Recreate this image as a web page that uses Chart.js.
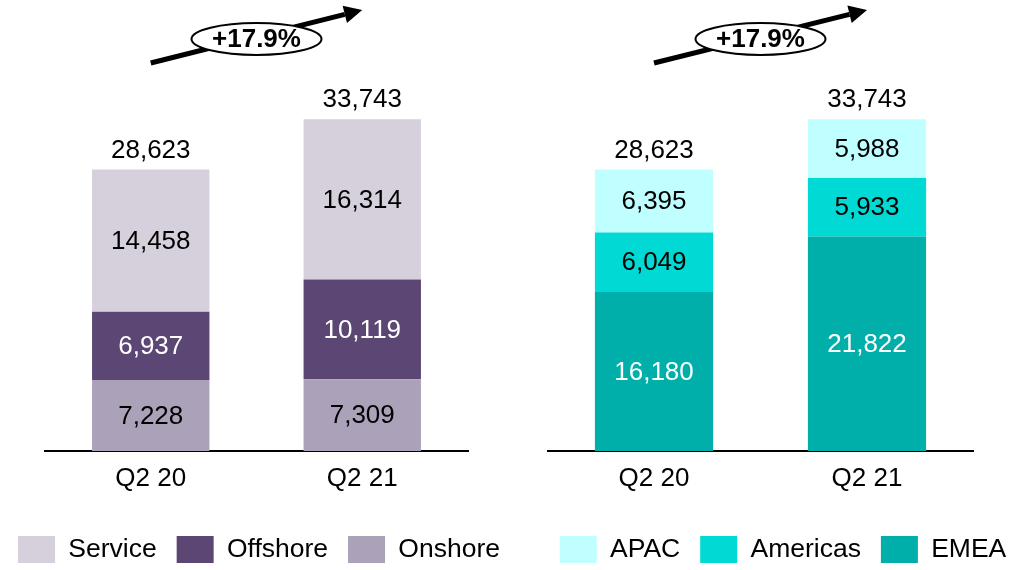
<!DOCTYPE html>
<html>
<head>
<meta charset="utf-8">
<title>Q2 20 vs Q2 21</title>
<script src="https://cdn.jsdelivr.net/npm/chart.js@4.4.1/dist/chart.umd.min.js"></script>
<style>
    html, body { margin: 0; padding: 0; background: #fff; overflow: hidden; width: 1025px; height: 570px; }
    .chart-box { position: absolute; top: 0; height: 600px; }
</style>
</head>
<body>
<div class="chart-box" style="left:-6px; width:530px;"><canvas id="mix-chart"></canvas></div>
<div class="chart-box" style="left:533px; width:500px;"><canvas id="region-chart"></canvas></div>

<script>
    "use strict";

    // Data
    const quarters = ["Q2 20", "Q2 21"];

    const onshore = [7228, 7309];
    const offshore = [6937, 10119];
    const service = [14458, 16314];
    const mixTotals = [28623, 33743];

    const emea = [16180, 21822];
    const americas = [6049, 5933];
    const apac = [6395, 5988];
    const regionTotals = [28623, 33743];

    const growth = "+17.9%";
    const yMax = 36000;

    Chart.defaults.font.family = "'Liberation Sans', Arial, sans-serif";
    Chart.defaults.color = "#000";

    var fmt = function (v) {
        return v.toLocaleString("en-US");
    };

    // Numbers inside the segments
    var segmentLabels = {
        id: "segmentLabels",
        afterDatasetsDraw: function (chart) {
            var ctx = chart.ctx;
            ctx.save();
            ctx.font = "26px 'Liberation Sans', Arial, sans-serif";
            ctx.textAlign = "center";
            ctx.textBaseline = "middle";
            chart.data.datasets.forEach(function (ds, i) {
                chart.getDatasetMeta(i).data.forEach(function (bar, j) {
                    ctx.fillStyle = ds.labelColor || "#000";
                    ctx.fillText(fmt(ds.data[j]), bar.x, (bar.y + bar.base) / 2 + 1);
                });
            });
            ctx.restore();
        }
    };

    // Totals on top of the bars
    var barTotals = {
        id: "barTotals",
        afterDatasetsDraw: function (chart, args, opts) {
            var ctx = chart.ctx;
            var last = chart.getDatasetMeta(chart.data.datasets.length - 1).data;
            ctx.save();
            ctx.font = "26px 'Liberation Sans', Arial, sans-serif";
            ctx.textAlign = "center";
            ctx.textBaseline = "middle";
            ctx.fillStyle = "#000";
            last.forEach(function (bar, j) {
                ctx.fillText(fmt(opts.values[j]), bar.x, bar.y - 19);
            });
            ctx.restore();
        }
    };

    // Growth arrow with the ellipse
    var growthArrow = {
        id: "growthArrow",
        afterDraw: function (chart, args, opts) {
            var ctx = chart.ctx;
            var bars = chart.getDatasetMeta(0).data;
            var x0 = bars[0].x, y0 = 63;
            var x1 = bars[1].x, y1 = 10;
            var ang = Math.atan2(y1 - y0, x1 - x0);
            var head = 18, half = 9;
            var bx = x1 - head * Math.cos(ang), by = y1 - head * Math.sin(ang);

            ctx.save();
            ctx.strokeStyle = "#000";
            ctx.fillStyle = "#000";
            ctx.lineWidth = 5;
            ctx.beginPath();
            ctx.moveTo(x0, y0);
            ctx.lineTo(bx, by);
            ctx.stroke();

            ctx.beginPath();
            ctx.moveTo(x1, y1);
            ctx.lineTo(bx + half * Math.sin(ang), by - half * Math.cos(ang));
            ctx.lineTo(bx - half * Math.sin(ang), by + half * Math.cos(ang));
            ctx.closePath();
            ctx.fill();

            var cx = (x0 + x1) / 2, cy = 39;
            ctx.beginPath();
            ctx.ellipse(cx, cy, 65, 16, 0, 0, Math.PI * 2);
            ctx.fillStyle = "#fff";
            ctx.fill();
            ctx.lineWidth = 2;
            ctx.stroke();

            ctx.fillStyle = "#000";
            ctx.font = "bold 26px 'Liberation Sans', Arial, sans-serif";
            ctx.textAlign = "center";
            ctx.textBaseline = "middle";
            ctx.fillText(opts.text, cx, cy + 1);
            ctx.restore();
        }
    };

    var makeOptions = function (leftW, rightW, totals) {
        return {
            responsive: true,
            maintainAspectRatio: false,
            animation: false,
            layout: { padding: { top: 97, bottom: 27, left: 0, right: 0 } },
            scales: {
                x: {
                    stacked: true,
                    grid: { display: false, drawTicks: false },
                    border: { display: true, color: "#000", width: 2 },
                    ticks: { color: "#000", font: { size: 26 }, padding: 12 },
                    afterFit: function (s) { s.height = 65; }
                },
                y: {
                    stacked: true,
                    min: 0,
                    max: yMax,
                    position: "left",
                    ticks: { display: false },
                    grid: { display: false },
                    border: { display: false },
                    afterFit: function (s) { s.width = leftW; }
                },
                yPad: {
                    type: "linear",
                    position: "right",
                    ticks: { display: false },
                    grid: { display: false },
                    border: { display: false },
                    afterFit: function (s) { s.width = rightW; }
                }
            },
            plugins: {
                legend: {
                    position: "bottom",
                    reverse: true,
                    labels: {
                        boxWidth: 37,
                        boxHeight: 27,
                        padding: 20,
                        color: "#000",
                        font: { size: 26.5 }
                    }
                },
                tooltip: { enabled: false },
                barTotals: { values: totals },
                growthArrow: { text: growth }
            }
        };
    };

    // Left Chart - delivery mix
    var ctx1 = document.getElementById("mix-chart").getContext("2d");
    var myChart1 = new Chart(ctx1, {
        type: "bar",
        data: {
            labels: quarters,
            datasets: [{
                    label: "Onshore",
                    data: onshore,
                    backgroundColor: "#ABA1B9",
                    labelColor: "#000",
                    barPercentage: 0.555,
                    categoryPercentage: 1
                },
                {
                    label: "Offshore",
                    data: offshore,
                    backgroundColor: "#5B4674",
                    labelColor: "#fff",
                    barPercentage: 0.555,
                    categoryPercentage: 1
                },
                {
                    label: "Service",
                    data: service,
                    backgroundColor: "#D6D0DD",
                    labelColor: "#000",
                    barPercentage: 0.555,
                    categoryPercentage: 1
                }
            ]
        },
        options: makeOptions(51, 56, mixTotals),
        plugins: [segmentLabels, barTotals, growthArrow]
    });

    // Right Chart - regions
    var ctx2 = document.getElementById("region-chart").getContext("2d");
    var myChart2 = new Chart(ctx2, {
        type: "bar",
        data: {
            labels: quarters,
            datasets: [{
                    label: "EMEA",
                    data: emea,
                    backgroundColor: "#00AFAA",
                    labelColor: "#fff",
                    barPercentage: 0.555,
                    categoryPercentage: 1
                },
                {
                    label: "Americas",
                    data: americas,
                    backgroundColor: "#00D9D4",
                    labelColor: "#000",
                    barPercentage: 0.555,
                    categoryPercentage: 1
                },
                {
                    label: "APAC",
                    data: apac,
                    backgroundColor: "#BFFFFF",
                    labelColor: "#000",
                    barPercentage: 0.555,
                    categoryPercentage: 1
                }
            ]
        },
        options: makeOptions(14.5, 59.5, regionTotals),
        plugins: [segmentLabels, barTotals, growthArrow]
    });
</script>
</body>
</html>
